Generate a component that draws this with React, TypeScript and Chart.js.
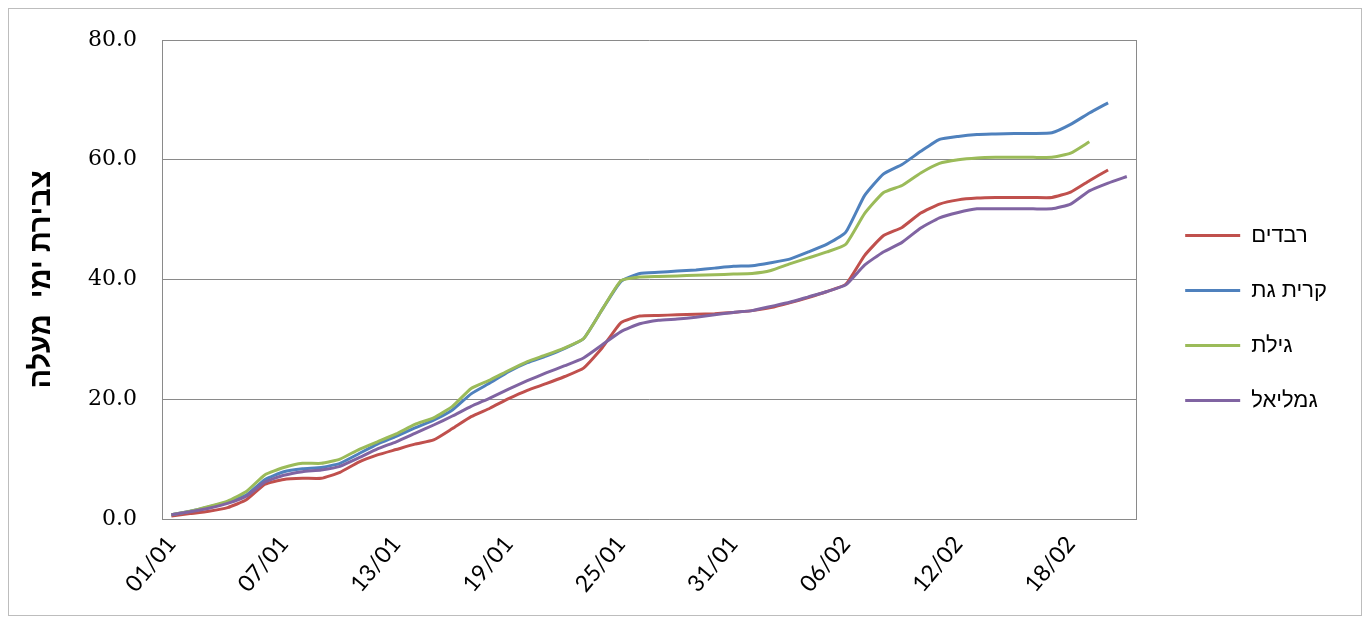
import React, { useEffect, useRef } from 'react';
import { Chart, registerables } from 'chart.js';

Chart.register(...registerables);

const categories = [
  '01/01', '02/01', '03/01', '04/01', '05/01', '06/01', '07/01', '08/01', '09/01', '10/01',
  '11/01', '12/01', '13/01', '14/01', '15/01', '16/01', '17/01', '18/01', '19/01', '20/01',
  '21/01', '22/01', '23/01', '24/01', '25/01', '26/01', '27/01', '28/01', '29/01', '30/01',
  '31/01', '01/02', '02/02', '03/02', '04/02', '05/02', '06/02', '07/02', '08/02', '09/02',
  '10/02', '11/02', '12/02', '13/02', '14/02', '15/02', '16/02', '17/02', '18/02', '19/02',
  '20/02', '21/02',
];

const seriesNames = ['רבדים', 'קרית גת', 'גילת', 'גמליאל'];

const revadim = [
  0.5, 0.9, 1.3, 1.9, 3.2, 5.8, 6.6, 6.8, 6.8, 7.8,
  9.5, 10.7, 11.6, 12.5, 13.2, 15.1, 17.1, 18.5, 20.1, 21.5,
  22.6, 23.8, 25.2, 28.6, 32.8, 33.9, 34.0, 34.1, 34.2, 34.3,
  34.5, 34.8, 35.3, 36.1, 37.0, 38.0, 39.2, 44.0, 47.3, 48.7,
  51.1, 52.6, 53.3, 53.6, 53.7, 53.7, 53.7, 53.7, 54.6, 56.5,
  58.3,
];

const kiryatGat = [
  0.7, 1.3, 2.0, 2.8, 4.0, 6.6, 7.9, 8.4, 8.6, 9.3,
  10.9, 12.5, 13.8, 15.2, 16.5, 18.2, 20.9, 22.7, 24.6, 26.1,
  27.2, 28.5, 30.1, 35.0, 39.7, 41.0, 41.2, 41.4, 41.6, 41.9,
  42.2, 42.3, 42.8, 43.4, 44.6, 45.9, 47.9, 54.0, 57.6, 59.2,
  61.4, 63.4, 63.9, 64.2, 64.3, 64.4, 64.4, 64.5, 65.9, 67.8,
  69.5,
];

const gilat = [
  0.7, 1.3, 2.1, 3.0, 4.6, 7.4, 8.6, 9.3, 9.3, 10.0,
  11.6, 12.9, 14.2, 15.8, 16.9, 18.8, 21.8, 23.2, 24.8, 26.3,
  27.4, 28.6, 30.1, 35.0, 39.8, 40.4, 40.5, 40.6, 40.7, 40.8,
  40.9, 41.0, 41.5, 42.6, 43.6, 44.6, 45.9, 51.0, 54.5, 55.7,
  57.8, 59.4, 60.0, 60.3, 60.4, 60.4, 60.4, 60.4, 61.1, 63.0,
];

const gamliel = [
  0.7, 1.2, 1.8, 2.6, 3.8, 6.2, 7.3, 7.9, 8.2, 8.8,
  10.2, 11.7, 12.9, 14.3, 15.7, 17.2, 18.8, 20.2, 21.7, 23.1,
  24.4, 25.6, 26.9, 29.1, 31.3, 32.6, 33.2, 33.4, 33.7, 34.1,
  34.5, 34.8, 35.5, 36.2, 37.1, 38.0, 39.1, 42.4, 44.6, 46.2,
  48.6, 50.3, 51.2, 51.8, 51.8, 51.8, 51.8, 51.8, 52.6, 54.8,
  56.1, 57.2,
];

const seriesColors = ['#C0504D', '#4F81BD', '#9BBB59', '#8064A2'];
const drawOrder = [4, 3, 2, 1];

const yMin = 0;
const yMax = 80;
const yStep = 20;
const yTitle = 'צבירת ימי  מעלה';
const labelEvery = 6;

export default function App() {
  const canvasRef = useRef<HTMLCanvasElement | null>(null);

  useEffect(() => {
    if (!canvasRef.current) return;
    const values = [revadim, kiryatGat, gilat, gamliel];
    const gridGrey = '#8a8a8a';
    const chart = new Chart(canvasRef.current, {
      type: 'line',
      data: {
        labels: categories,
        datasets: values.map((vals, i) => ({
          label: seriesNames[i],
          data: vals,
          borderColor: seriesColors[i],
          backgroundColor: seriesColors[i],
          borderWidth: 3,
          pointRadius: 0,
          pointHoverRadius: 0,
          tension: 0.15,
          borderJoinStyle: 'round' as const,
          fill: false,
          order: drawOrder[i],
          pointStyle: 'line' as const,
        })),
      },
      options: {
        animation: false,
        responsive: false,
        maintainAspectRatio: false,
        layout: { padding: { top: 31, left: 0, right: 24, bottom: 19 } },
        plugins: {
          tooltip: { enabled: false },
          legend: {
            position: 'right',
            align: 'center',
            labels: {
              usePointStyle: true,
              pointStyle: 'line',
              pointStyleWidth: 55,
              padding: 33,
              color: '#000',
              font: { family: '"Liberation Sans", Arial, sans-serif', size: 22 },
              sort: (a: any, b: any) => a.datasetIndex - b.datasetIndex,
            },
          },
        },
        scales: {
          x: {
            type: 'category',
            offset: true,
            grid: { display: false, drawTicks: false },
            border: { display: true, color: gridGrey, width: 1 },
            ticks: {
              autoSkip: false,
              minRotation: 50,
              maxRotation: 50,
              padding: 12,
              color: '#000',
              font: { family: 'Lato, "Open Sans", sans-serif', size: 23 },
              callback: (_v: any, idx: number) => (idx % labelEvery === 0 ? categories[idx] : ''),
            },
            afterFit: (scale: any) => {
              scale.height = 77;
            },
          },
          y: {
            min: yMin,
            max: yMax,
            position: 'left',
            grid: {
              color: gridGrey,
              lineWidth: 1,
              drawTicks: true,
              tickLength: 25,
              tickColor: 'rgba(0,0,0,0)',
            },
            border: { display: true, color: gridGrey, width: 1 },
            ticks: {
              stepSize: yStep,
              padding: 0,
              color: '#000',
              font: { family: '"DejaVu Serif", serif', size: 22 },
              callback: (v: any) => Number(v).toFixed(1),
            },
            title: {
              display: true,
              text: yTitle,
              color: '#000',
              font: { family: '"Liberation Sans", Arial, sans-serif', size: 29, weight: 'bold' },
              padding: { top: 16, bottom: 0 },
            },
            afterFit: (scale: any) => {
              scale.width = 153;
            },
          },
          yEdge: {
            position: 'right',
            display: true,
            min: 0,
            max: 1,
            grid: { display: false, drawOnChartArea: false, drawTicks: false },
            border: { display: true, color: gridGrey, width: 1 },
            ticks: { display: false },
            afterFit: (scale: any) => {
              scale.width = 16;
            },
          },
        },
      },
    });
    return () => chart.destroy();
  }, []);

  return (
    <div
      style={{
        width: 1352,
        height: 606,
        border: '1px solid #bdbdbd',
        background: '#fff',
      }}
    >
      <canvas ref={canvasRef} width={1352} height={606} style={{ display: 'block', width: 1352, height: 606 }} />
    </div>
  );
}
